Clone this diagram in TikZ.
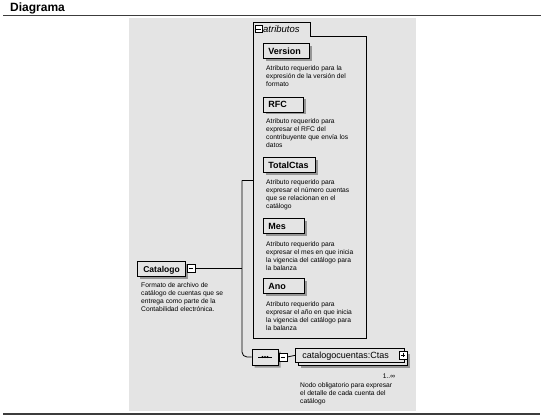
\documentclass[tikz,border=0pt]{standalone}
\usepackage{fontspec}
\setmainfont{Liberation Sans}
\usetikzlibrary{shadows,shapes.misc}
\definecolor{bgc}{RGB}{228,228,228}
\definecolor{shc}{RGB}{150,150,150}
\definecolor{rulec}{RGB}{60,60,60}
\begin{document}
\begin{tikzpicture}[x=1pt,y=-1pt,
  boxshadow/.style={drop shadow={shadow xshift=2.5pt, shadow yshift=-2.5pt, fill=shc, opacity=1}},
  elbox/.style={draw=black, line width=0.7pt, fill=bgc, anchor=north west,
    minimum height=15pt, inner xsep=5pt, inner ysep=0pt,
    font=\fontsize{9}{10}\selectfont\bfseries, text height=6.5pt, text depth=0pt,
    align=left, boxshadow},
  desc/.style={anchor=north west, inner sep=0pt, align=left,
    font=\fontsize{6.7}{8}\selectfont},
  icon/.style={draw=black, line width=0.6pt, fill=white, minimum size=8pt, inner sep=0pt},
  conn/.style={draw=black, line width=0.8pt},
  rulestyle/.style={draw=rulec, line width=1.4pt}
]
\useasboundingbox (0,0) rectangle (543,418);
% title and rules
\node[anchor=base west, inner sep=0pt, font=\fontsize{12}{14}\selectfont\bfseries] (title) at (10,11) {Diagrama};
\coordinate (r1a) at (3,15.5);
\coordinate (r1b) at (541,15.5);
\draw[rulestyle] (r1a) -- (r1b);
\fill[bgc] (129,18) rectangle (416,411);
\coordinate (r2a) at (3,414);
\coordinate (r2b) at (540,414);
\draw[rulestyle] (r2a) -- (r2b);

% attribute container
\draw[line width=0.8pt] (253,338) -- (253,22) -- (310,22) -- (310,36) -- (366,36) -- (366,338) -- cycle;
\node[icon, minimum size=7pt] (amin) at (258.5,29) {};
\draw[line width=0.6pt] ([xshift=1.5pt]amin.west) -- ([xshift=-1.5pt]amin.east);
\node[anchor=west, inner sep=0pt, font=\fontsize{9.5}{10}\selectfont\itshape] (atit) at (263,29) {atributos};

% attributes
\node[elbox, text width=36pt] (version) at (263,43) {Version};
\node[desc] (dversion) at (266,65.5) {Atributo requerido para la\\expresión de la versión del\\formato};

\node[elbox, text width=30pt] (rfc) at (263,96.5) {RFC};
\node[desc] (drfc) at (266,118.5) {Atributo requerido para\\expresar el RFC del\\contribuyente que envía los\\datos};

\node[elbox, text width=42pt] (total) at (263,157) {TotalCtas};
\node[desc] (dtotal) at (266,179) {Atributo requerido para\\expresar el número cuentas\\que se relacionan en el\\catálogo};

\node[elbox, text width=31pt] (mes) at (263,218) {Mes};
\node[desc] (dmes) at (266,241.5) {Atributo requerido para\\expresar el mes en que inicia\\la vigencia del catálogo para\\la balanza};

\node[elbox, text width=31pt] (ano) at (263,278) {Ano};
\node[desc] (dano) at (266,301.5) {Atributo requerido para\\expresar el año en que inicia\\la vigencia del catálogo para\\la balanza};

% root element
\node[elbox, text width=36pt, inner xsep=6pt, font=\fontsize{8.5}{10}\selectfont\bfseries] (catalogo) at (137,261) {Catalogo};
\node[icon] (cmin) at (191,268.5) {};
\draw[line width=0.6pt] ([xshift=2pt]cmin.west) -- ([xshift=-2pt]cmin.east);
\node[desc] (dcatalogo) at (141,282.7) {Formato de archivo de\\catálogo de cuentas que se\\entrega como parte de la\\Contabilidad electrónica.};

% sequence and child
\node[chamfered rectangle, chamfered rectangle xsep=4pt, chamfered rectangle ysep=4pt,
  draw=black, line width=0.7pt, fill=bgc, minimum width=26pt, minimum height=16pt,
  inner sep=0pt, boxshadow] (seq) at (265,357) {};
\draw[line width=0.8pt] ([xshift=-7pt]seq.center) -- ([xshift=7pt]seq.center);
\fill ([xshift=-2.5pt]seq.center) circle (1.1pt);
\fill (seq.center) circle (1.1pt);
\fill ([xshift=2.5pt]seq.center) circle (1.1pt);
\node[icon] (seqmin) at (283,357) {};
\draw[line width=0.6pt] ([xshift=2pt]seqmin.west) -- ([xshift=-2pt]seqmin.east);

\node[draw=black, line width=0.7pt, fill=bgc, anchor=north west, minimum width=109pt,
  minimum height=14pt, inner sep=0pt, boxshadow] (ctasback) at (298,351) {};
\node[draw=black, line width=0.7pt, fill=bgc, anchor=north west, minimum height=14pt,
  inner xsep=7pt, inner ysep=0pt, text width=95pt, align=left,
  font=\fontsize{9}{10}\selectfont, text height=6.5pt, text depth=0pt] (ctas) at (295,348) {catalogocuentas:Ctas};
\node[icon] (cplus) at (403,355) {};
\draw[line width=0.6pt] ([xshift=2pt]cplus.west) -- ([xshift=-2pt]cplus.east);
\draw[line width=0.6pt] ([yshift=-2pt]cplus.north) -- ([yshift=2pt]cplus.south);
\node[inner sep=0pt, font=\fontsize{6.7}{8}\selectfont] (mult) at (389,376) {1..∞};
\node[desc] (dctas) at (300,382.5) {Nodo obligatorio para expresar\\el detalle de cada cuenta del\\catálogo};

% connectors
\coordinate (jtop) at (242,180);
\coordinate (attrin) at (253,180);
\draw[conn] (cmin.east) -- (cmin.east -| jtop);
\draw[conn] (attrin) -- (jtop);
\draw[conn, rounded corners=5pt] ([yshift=-0.4pt]jtop) -- (jtop |- seq.west) -- (seq.west);
\draw[conn] (seq.east) -- (seqmin.west);
\draw[conn] (seqmin.east) -- (ctas.west);
\end{tikzpicture}
\end{document}
